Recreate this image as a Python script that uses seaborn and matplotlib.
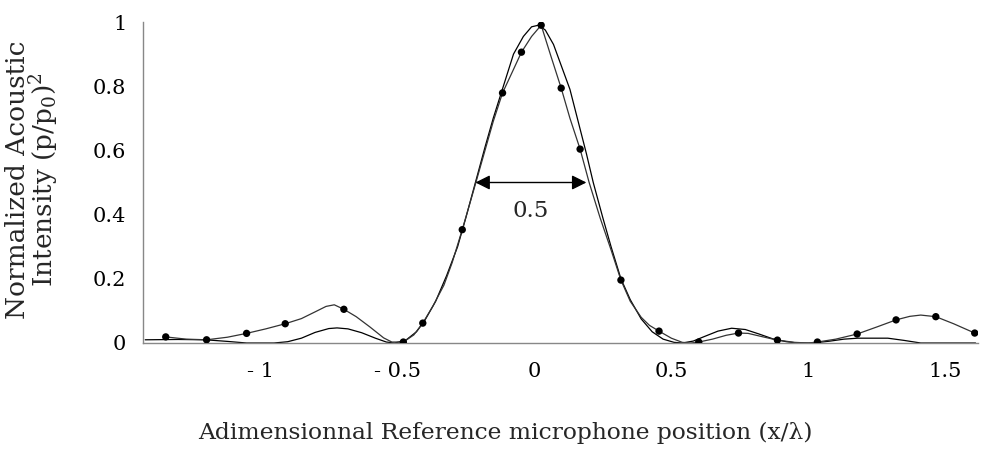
import numpy as np
import matplotlib
matplotlib.use("Agg")
import matplotlib.pyplot as plt
import seaborn as sns

# measured points (markers)
meas_x = [-1.345, -1.196, -1.05, -0.909, -0.695, -0.478, -0.407, -0.263, -0.116, -0.047,
          0.025, 0.098, 0.167, 0.316, 0.455, 0.600, 0.745, 0.887, 1.033, 1.178,
          1.320, 1.465, 1.607]
meas_y = [0.019, 0.010, 0.030, 0.060, 0.105, 0.003, 0.062, 0.353, 0.779, 0.906,
          0.990, 0.794, 0.604, 0.196, 0.037, 0.003, 0.031, 0.009, 0.003, 0.028,
          0.072, 0.082, 0.031]

fit_x = [-1.345, -1.27, -1.196, -1.12, -1.05, -0.98, -0.909, -0.85, -0.80, -0.76,
         -0.73, -0.695, -0.65, -0.60, -0.55, -0.52, -0.478, -0.44, -0.407, -0.37,
         -0.33, -0.30, -0.263, -0.22, -0.18, -0.15, -0.116, -0.08, -0.047, -0.01,
         0.025, 0.06, 0.098, 0.13, 0.167, 0.20, 0.24, 0.28, 0.316, 0.35,
         0.39, 0.42, 0.455, 0.50, 0.54, 0.57, 0.60, 0.65, 0.70, 0.745,
         0.78, 0.83, 0.887, 0.95, 1.00, 1.033, 1.10, 1.178, 1.25, 1.32,
         1.37, 1.41, 1.465, 1.53, 1.607]
fit_y = [0.019, 0.012, 0.010, 0.018, 0.030, 0.044, 0.060, 0.076, 0.097, 0.114,
         0.119, 0.105, 0.082, 0.050, 0.016, 0.003, 0.003, 0.025, 0.062, 0.115,
         0.180, 0.250, 0.353, 0.480, 0.600, 0.690, 0.779, 0.845, 0.906, 0.955,
         0.990, 0.895, 0.794, 0.700, 0.604, 0.500, 0.390, 0.290, 0.196, 0.130,
         0.080, 0.055, 0.037, 0.015, 0.002, 0.000, 0.003, 0.012, 0.024, 0.031,
         0.030, 0.020, 0.009, 0.002, 0.000, 0.003, 0.012, 0.028, 0.050, 0.072,
         0.083, 0.087, 0.082, 0.060, 0.031]

# theoretical curve (no markers)
theo_x = [-1.42, -1.30, -1.20, -1.12, -1.05, -0.95, -0.90, -0.85, -0.80, -0.75,
          -0.72, -0.68, -0.63, -0.58, -0.54, -0.51, -0.47, -0.43, -0.40, -0.36,
          -0.32, -0.28, -0.25, -0.215, -0.18, -0.15, -0.113, -0.076, -0.04, -0.01,
          0.015, 0.04, 0.07, 0.10, 0.13, 0.16, 0.19, 0.215, 0.25, 0.28,
          0.316, 0.35, 0.39, 0.43, 0.47, 0.51, 0.54, 0.58, 0.62, 0.67,
          0.72, 0.77, 0.82, 0.87, 0.92, 0.96, 1.02, 1.08, 1.13, 1.18,
          1.29, 1.35, 1.41, 1.61]
theo_y = [0.010, 0.011, 0.010, 0.005, 0.000, 0.000, 0.004, 0.015, 0.033, 0.045,
          0.047, 0.044, 0.032, 0.015, 0.003, 0.000, 0.008, 0.035, 0.070, 0.130,
          0.210, 0.300, 0.390, 0.500, 0.610, 0.700, 0.800, 0.900, 0.955, 0.985,
          0.990, 0.975, 0.930, 0.860, 0.790, 0.690, 0.590, 0.500, 0.390, 0.300,
          0.200, 0.135, 0.075, 0.035, 0.012, 0.002, 0.000, 0.006, 0.020, 0.037,
          0.046, 0.042, 0.028, 0.013, 0.004, 0.000, 0.000, 0.006, 0.012, 0.015,
          0.015, 0.008, 0.000, 0.000]

xtick_pos = [-1.25, -1.0, -0.75, -0.5, -0.25, 0.0, 0.25, 0.5, 0.75, 1.0, 1.25, 1.5]
xtick_lab = ['', '- 1', '', '- 0.5', '', '0', '', '0.5', '', '1', '', '1.5']
ytick_pos = [0.0, 0.1, 0.2, 0.3, 0.4, 0.5, 0.6, 0.7, 0.8, 0.9, 1.0]
ytick_lab = ['0', '', '0.2', '', '0.4', '', '0.6', '', '0.8', '', '1']

fwhm_left, fwhm_right, fwhm_level = -0.215, 0.19, 0.5
fwhm_text = '0.5'

sns.set_theme(style="white")
plt.rcParams['font.family'] = ['DejaVu Serif']
plt.rcParams['mathtext.fontset'] = 'dejavuserif'

fig = plt.figure(figsize=(9.82, 4.49), dpi=100)
ax = fig.add_axes([143/982, 106/449, (978-143)/982, 321/449])

sns.lineplot(x=theo_x, y=theo_y, ax=ax, color='black', lw=0.9, estimator=None, sort=False)
sns.lineplot(x=fit_x, y=fit_y, ax=ax, color='#333333', lw=0.9, estimator=None, sort=False)
sns.scatterplot(x=meas_x, y=meas_y, ax=ax, color='black', s=28, edgecolor='none', zorder=4)

ax.annotate('', xy=(fwhm_left, fwhm_level), xytext=(fwhm_right, fwhm_level),
            arrowprops=dict(arrowstyle='<|-|>', color='black', lw=1.0,
                            mutation_scale=22, shrinkA=0, shrinkB=0))
ax.text((fwhm_left + fwhm_right) / 2, 0.41, fwhm_text, ha='center', va='center', fontsize=16.5)

ax.set_xlim(-1.428, 1.619)
ax.set_ylim(0, 1.0)
ax.set_xticks(xtick_pos)
ax.set_xticklabels(xtick_lab)
ax.set_yticks(ytick_pos)
ax.set_yticklabels(ytick_lab)

for s in ['top', 'right']:
    ax.spines[s].set_visible(False)
for s in ['left', 'bottom']:
    ax.spines[s].set_color('#888888')
    ax.spines[s].set_linewidth(1.0)
ax.tick_params(axis='both', which='both', direction='out', length=6, width=1.0,
               color='#888888', labelcolor='black', labelsize=15)
ax.tick_params(axis='x', pad=8)
ax.tick_params(axis='y', pad=6)

ax.set_xlabel('Adimensionnal Reference microphone position (x/λ)', fontsize=16.8,
              va='center')
ax.xaxis.set_label_coords((505 - 143) / 835, (343 - 433) / 321)
ax.set_ylabel('Normalized Acoustic\nIntensity (p/p$_0$)$^2$', fontsize=19,
              linespacing=0.9, va='center')
ax.yaxis.set_label_coords((33 - 143) / 835, (343 - 180) / 321)

fig.savefig('out.png', dpi=100)
